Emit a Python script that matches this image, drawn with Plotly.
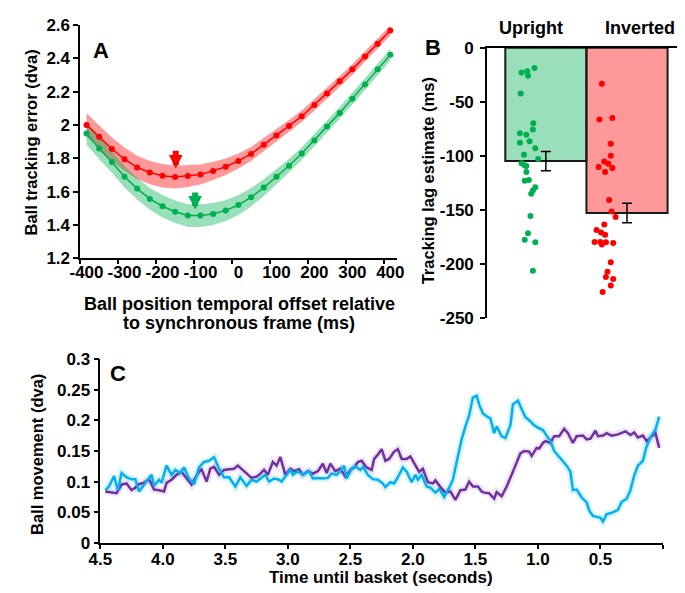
import plotly.graph_objects as go

W, H = 685, 593
FONT = "Liberation Sans, Arial, sans-serif"

# ---------------- Panel A: tracking error vs temporal offset ----------------
offsets = [-400, -366.7, -333.3, -300, -266.7, -233.3, -200, -166.7, -133.3, -100,
           -66.7, -33.3, 0, 33.3, 66.7, 100, 133.3, 166.7, 200, 233.3, 266.7,
           300, 333.3, 366.7, 400]
inverted_err = [2.001, 1.930, 1.856, 1.795, 1.746, 1.715, 1.696, 1.688, 1.694, 1.704,
                1.725, 1.750, 1.785, 1.827, 1.882, 1.937, 1.995, 2.053, 2.121, 2.189,
                2.262, 2.334, 2.411, 2.488, 2.567]
inverted_sem = [0.07, 0.07, 0.07, 0.07, 0.07, 0.07, 0.07, 0.068, 0.065, 0.06, 0.055,
                0.05, 0.045, 0.042, 0.04, 0.038, 0.036, 0.035, 0.034, 0.033, 0.032,
                0.032, 0.031, 0.031, 0.03]
upright_err = [1.949, 1.860, 1.779, 1.690, 1.619, 1.557, 1.513, 1.480, 1.457, 1.457,
               1.466, 1.488, 1.520, 1.567, 1.625, 1.690, 1.756, 1.829, 1.908, 1.992,
               2.073, 2.158, 2.243, 2.334, 2.422]
upright_sem = [0.065, 0.065, 0.065, 0.065, 0.065, 0.065, 0.067, 0.068, 0.068, 0.068,
               0.066, 0.063, 0.06, 0.055, 0.05, 0.045, 0.04, 0.038, 0.037, 0.036,
               0.035, 0.035, 0.035, 0.035, 0.035]
a_xticks = [-400, -300, -200, -100, 0, 100, 200, 300, 400]
a_yticks = [1.2, 1.4, 1.6, 1.8, 2, 2.2, 2.4, 2.6]
# arrows marking the minima (offset, tail, tip)
inv_arrow = (-165, 1.855, 1.74)
up_arrow = (-114, 1.605, 1.494)

# ---------------- Panel B: tracking lag estimates ----------------
conditions = ["Upright", "Inverted"]
lag_mean = [-105, -153]
lag_sem = [9, 9]
up_jitter = [-0.30, -0.23, -0.22, -0.14, -0.31, -0.155, -0.16, -0.32, -0.24, -0.32,
             -0.20, -0.13, -0.27, -0.095, -0.30, -0.26, -0.24, -0.24, -0.21, -0.26,
             -0.13, -0.16, -0.18, -0.19, -0.22, -0.26, -0.13, -0.16]
up_lags = [-22.9, -21.8, -26, -18.8, -42.4, -69.9, -75.8, -79.1, -80.6, -88.1,
           -86.6, -93.2, -99.1, -103, -106.9, -109, -109.6, -115, -122.4, -123.3,
           -129.3, -132.3, -135.3, -155.9, -171.7, -177.7, -180.1, -206.6]
inv_jitter = [0.69, 0.66, 0.82, 0.80, 0.80, 0.72, 0.77, 0.65, 0.82, 0.73, 0.78, 0.81,
              0.86, 0.72, 0.625, 0.68, 0.73, 0.60, 0.67, 0.69, 0.74, 0.83, 0.80, 0.76,
              0.74, 0.83, 0.80, 0.70]
inv_lags = [-33.4, -66.6, -65.1, -89, -100, -105.4, -107.5, -110.5, -111.4, -115,
            -141, -151.7, -156.8, -163.6, -168.7, -171.1, -173.2, -179.8, -179.8,
            -182.2, -180.1, -180.7, -198.6, -207.5, -212.3, -214.2, -220.1, -226.1]
b_yticks = [0, -50, -100, -150, -200, -250]

# ---------------- Panel C: ball movement over time ----------------
blue_t = [4.46, 4.43, 4.39, 4.36, 4.33, 4.29, 4.25, 4.22, 4.19, 4.15, 4.12, 4.09, 4.07,
          4.03, 4.01, 3.97, 3.93, 3.90, 3.86, 3.83, 3.79, 3.75, 3.71, 3.67, 3.63, 3.59,
          3.55, 3.51, 3.47, 3.42, 3.38, 3.33, 3.29, 3.25, 3.21, 3.18, 3.15, 3.11, 3.07,
          3.05, 3.01, 2.98, 2.96, 2.92, 2.88, 2.83, 2.80, 2.76, 2.72, 2.68, 2.65, 2.61,
          2.58, 2.55, 2.53, 2.49, 2.46, 2.42, 2.40, 2.36, 2.32, 2.28, 2.24, 2.22, 2.18,
          2.15, 2.11, 2.08, 2.05, 2.01, 1.98, 1.96, 1.93, 1.89, 1.86, 1.82, 1.79, 1.75,
          1.71, 1.68, 1.65, 1.61, 1.58, 1.55, 1.52, 1.49, 1.47, 1.44, 1.40, 1.38, 1.35,
          1.33, 1.29, 1.26, 1.22, 1.20, 1.16, 1.13, 1.10, 1.07, 1.03, 1.00, 0.96, 0.93,
          0.90, 0.87, 0.83, 0.80, 0.77, 0.74, 0.72, 0.69, 0.65, 0.61, 0.59, 0.56, 0.53,
          0.50, 0.48, 0.45, 0.41, 0.36, 0.33, 0.29, 0.26, 0.23, 0.20, 0.16, 0.135,
          0.095, 0.06, 0.03]
blue_v = [0.086, 0.092, 0.109, 0.086, 0.114, 0.107, 0.104, 0.104, 0.084, 0.096, 0.103,
          0.111, 0.093, 0.103, 0.098, 0.126, 0.111, 0.119, 0.114, 0.123, 0.105, 0.096,
          0.123, 0.132, 0.134, 0.140, 0.121, 0.107, 0.107, 0.092, 0.107, 0.093, 0.103,
          0.100, 0.106, 0.111, 0.100, 0.105, 0.103, 0.100, 0.111, 0.120, 0.111, 0.117,
          0.111, 0.117, 0.105, 0.106, 0.105, 0.106, 0.113, 0.111, 0.117, 0.126, 0.105,
          0.121, 0.125, 0.119, 0.124, 0.111, 0.104, 0.103, 0.097, 0.091, 0.099, 0.097,
          0.111, 0.123, 0.116, 0.099, 0.111, 0.103, 0.111, 0.092, 0.090, 0.082, 0.088,
          0.075, 0.090, 0.103, 0.132, 0.169, 0.190, 0.208, 0.237, 0.240, 0.226, 0.211,
          0.205, 0.203, 0.179, 0.190, 0.174, 0.171, 0.192, 0.226, 0.232, 0.219, 0.205,
          0.200, 0.192, 0.188, 0.184, 0.175, 0.166, 0.150, 0.140, 0.134, 0.126, 0.116,
          0.086, 0.087, 0.074, 0.066, 0.053, 0.044, 0.042, 0.041, 0.035, 0.047, 0.049,
          0.054, 0.067, 0.072, 0.086, 0.110, 0.126, 0.134, 0.155, 0.174, 0.185, 0.206]
purple_t = [4.46, 4.42, 4.37, 4.33, 4.29, 4.25, 4.22, 4.19, 4.15, 4.11, 4.07, 4.03, 3.99,
            3.97, 3.93, 3.89, 3.85, 3.82, 3.77, 3.75, 3.71, 3.69, 3.65, 3.62, 3.59, 3.55,
            3.51, 3.47, 3.43, 3.40, 3.36, 3.32, 3.29, 3.25, 3.23, 3.19, 3.16, 3.12, 3.09,
            3.06, 3.02, 2.98, 2.95, 2.91, 2.88, 2.84, 2.80, 2.76, 2.72, 2.69, 2.66, 2.62,
            2.58, 2.54, 2.50, 2.47, 2.44, 2.41, 2.37, 2.33, 2.31, 2.28, 2.25, 2.22, 2.19,
            2.15, 2.12, 2.09, 2.05, 2.02, 1.98, 1.95, 1.92, 1.88, 1.84, 1.82, 1.78, 1.74,
            1.70, 1.66, 1.62, 1.58, 1.55, 1.52, 1.48, 1.45, 1.43, 1.39, 1.35, 1.33, 1.29,
            1.25, 1.21, 1.17, 1.14, 1.11, 1.07, 1.05, 1.01, 0.99, 0.96, 0.94, 0.90, 0.87,
            0.83, 0.79, 0.76, 0.72, 0.69, 0.64, 0.61, 0.58, 0.54, 0.52, 0.48, 0.45, 0.41,
            0.36, 0.33, 0.30, 0.26, 0.23, 0.20, 0.16, 0.13, 0.095, 0.06, 0.03]
purple_v = [0.084, 0.083, 0.081, 0.095, 0.097, 0.086, 0.090, 0.096, 0.098, 0.104, 0.087,
            0.086, 0.084, 0.098, 0.103, 0.111, 0.116, 0.108, 0.095, 0.103, 0.116, 0.120,
            0.100, 0.121, 0.124, 0.111, 0.119, 0.120, 0.121, 0.126, 0.119, 0.112, 0.106,
            0.108, 0.111, 0.119, 0.111, 0.132, 0.126, 0.140, 0.111, 0.121, 0.117, 0.120,
            0.111, 0.117, 0.113, 0.117, 0.129, 0.114, 0.129, 0.117, 0.121, 0.108, 0.119,
            0.123, 0.132, 0.134, 0.123, 0.119, 0.137, 0.144, 0.153, 0.134, 0.137, 0.149,
            0.153, 0.137, 0.137, 0.141, 0.126, 0.116, 0.121, 0.099, 0.097, 0.102, 0.091,
            0.082, 0.084, 0.070, 0.086, 0.087, 0.100, 0.092, 0.092, 0.084, 0.082, 0.081,
            0.072, 0.083, 0.076, 0.092, 0.111, 0.132, 0.146, 0.150, 0.149, 0.142, 0.155,
            0.154, 0.163, 0.166, 0.163, 0.174, 0.174, 0.186, 0.179, 0.163, 0.174, 0.175,
            0.169, 0.170, 0.183, 0.174, 0.175, 0.179, 0.175, 0.177, 0.180, 0.182, 0.176,
            0.180, 0.172, 0.175, 0.166, 0.172, 0.179, 0.155]
c_xticks = [4.5, 4.0, 3.5, 3.0, 2.5, 2.0, 1.5, 1.0, 0.5, 0]
c_xlabels = ["4.5", "4.0", "3.5", "3.0", "2.5", "2.0", "1.5", "1.0", "0.5", ""]

RED, GREEN = "#FF0000", "#00B050"
RED_FILL, GREEN_FILL = "rgba(255,0,0,0.4)", "rgba(0,176,80,0.4)"
BLUE, PURPLE = "#00B0F0", "#7030A0"


def px(x):
    return x / W


def py(y):
    return 1 - y / H


fig = go.Figure()

# --- A: SEM bands (red first, green over it) then lines
for vals, sem, fill in [(inverted_err, inverted_sem, RED_FILL),
                        (upright_err, upright_sem, GREEN_FILL)]:
    upper = [v + s for v, s in zip(vals, sem)]
    lower = [v - s for v, s in zip(vals, sem)]
    fig.add_trace(go.Scatter(x=offsets + offsets[::-1], y=upper + lower[::-1],
                             fill="toself", fillcolor=fill, line=dict(width=0),
                             mode="lines", xaxis="x", yaxis="y", hoverinfo="skip"))
for vals, col in [(inverted_err, RED), (upright_err, GREEN)]:
    fig.add_trace(go.Scatter(x=offsets, y=vals, mode="lines+markers",
                             line=dict(color=col, width=1.5),
                             marker=dict(color=col, size=6), xaxis="x", yaxis="y"))

# --- B: bars, error bars, individual points
fig.add_trace(go.Bar(x=[0, 1], y=lag_mean, width=1,
                     marker=dict(color=[GREEN_FILL, RED_FILL],
                                 line=dict(color="#1a1a1a", width=2)),
                     error_y=dict(type="data", array=lag_sem, color="black",
                                  thickness=1.5, width=5),
                     xaxis="x2", yaxis="y2"))
fig.add_trace(go.Scatter(x=up_jitter, y=up_lags, mode="markers",
                         marker=dict(color=GREEN, size=6), xaxis="x2", yaxis="y2"))
fig.add_trace(go.Scatter(x=inv_jitter, y=inv_lags, mode="markers",
                         marker=dict(color=RED, size=6), xaxis="x2", yaxis="y2"))

# --- C: ball movement traces with faint halo
for t, v, col, halo in [(purple_t, purple_v, PURPLE, "rgba(112,48,160,0.12)"),
                        (blue_t, blue_v, BLUE, "rgba(0,176,240,0.15)")]:
    fig.add_trace(go.Scatter(x=t, y=v, mode="lines", line=dict(color=halo, width=7),
                             xaxis="x3", yaxis="y3", hoverinfo="skip"))
for t, v, col in [(purple_t, purple_v, PURPLE), (blue_t, blue_v, BLUE)]:
    fig.add_trace(go.Scatter(x=t, y=v, mode="lines", line=dict(color=col, width=2.5),
                             xaxis="x3", yaxis="y3"))

tickfont = dict(family=FONT, size=17, color="black", weight="bold")
axis_common = dict(showline=True, linecolor="black", linewidth=1.5, showgrid=False,
                   zeroline=False, tickfont=tickfont, tickcolor="black", tickwidth=1.5)

fig.update_layout(
    width=W, height=H, margin=dict(l=0, r=0, t=0, b=0),
    paper_bgcolor="white", plot_bgcolor="white", showlegend=False,
    font=dict(family=FONT, color="black"),
    xaxis=dict(domain=[px(62), px(388)], range=[-416.67, 416.67], anchor="y",
               tickmode="array", tickvals=a_xticks, ticktext=[str(v) for v in a_xticks],
               ticks="", ticklabelstandoff=-3,
               minor=dict(ticks="outside", tickmode="linear", tick0=-316.67, dtick=100,
                          ticklen=4, tickcolor="black", tickwidth=1.5),
               **axis_common),
    yaxis=dict(domain=[py(249.4), py(8.3)], range=[1.2, 2.6], anchor="x",
               tickmode="array", tickvals=a_yticks, ticks="outside", ticklen=5,
               **axis_common),
    xaxis2=dict(domain=[px(481), px(678)], range=[-0.726, 1.631], anchor="y2",
                side="top", showticklabels=False, ticks="", **axis_common),
    yaxis2=dict(domain=[py(310.7), py(31.7)], range=[-250, 0], anchor="x2",
                tickmode="array", tickvals=b_yticks, ticktext=[str(v) for v in b_yticks],
                ticks="outside", ticklen=5, ticklabelstandoff=3, **axis_common),
    xaxis3=dict(domain=[px(82.7), px(662.3)], range=[4.5, 0], anchor="y3",
                tickmode="array", tickvals=c_xticks, ticktext=c_xlabels,
                ticks="outside", ticklen=4, ticklabelstandoff=-4, **axis_common),
    yaxis3=dict(domain=[py(543.3), py(353.3)], range=[0, 0.3], anchor="x3",
                tickmode="linear", tick0=0, dtick=0.05, ticks="outside", ticklen=5,
                **axis_common),
)

# arrows marking minima in panel A
for (xa, tail, tip), col in [(inv_arrow, RED), (up_arrow, GREEN)]:
    fig.add_annotation(x=xa, y=tip, ax=xa, ay=tail, xref="x", yref="y", axref="x",
                       ayref="y", showarrow=True, arrowhead=2, arrowsize=0.45,
                       arrowwidth=6, arrowcolor=col, text="")


def label(text, x, y, size=18, angle=0):
    fig.add_annotation(x=px(x), y=py(y), xref="paper", yref="paper", text=text,
                       showarrow=False, textangle=angle, xanchor="center",
                       yanchor="middle", font=dict(family=FONT, size=size,
                                                   color="black", weight="bold"))


label("A", 83, 35, size=22)
label("B", 425, 32, size=22)
label("C", 101, 368, size=22)
label("Ball tracking error (dva)", 11, 130, size=16.5, angle=-90)
label("Ball position temporal offset relative", 226, 297)
label("to synchronous frame (ms)", 226, 316)
label("Tracking lag estimate (ms)", 420, 169, size=16.5, angle=-90)
label(conditions[0], 526, 11)
label(conditions[1], 639, 11)
label("Ball movement (dva)", 17, 452, size=16.5, angle=-90)
label("Time until basket (seconds)", 372, 579, size=17)

fig.write_html("out.html")
